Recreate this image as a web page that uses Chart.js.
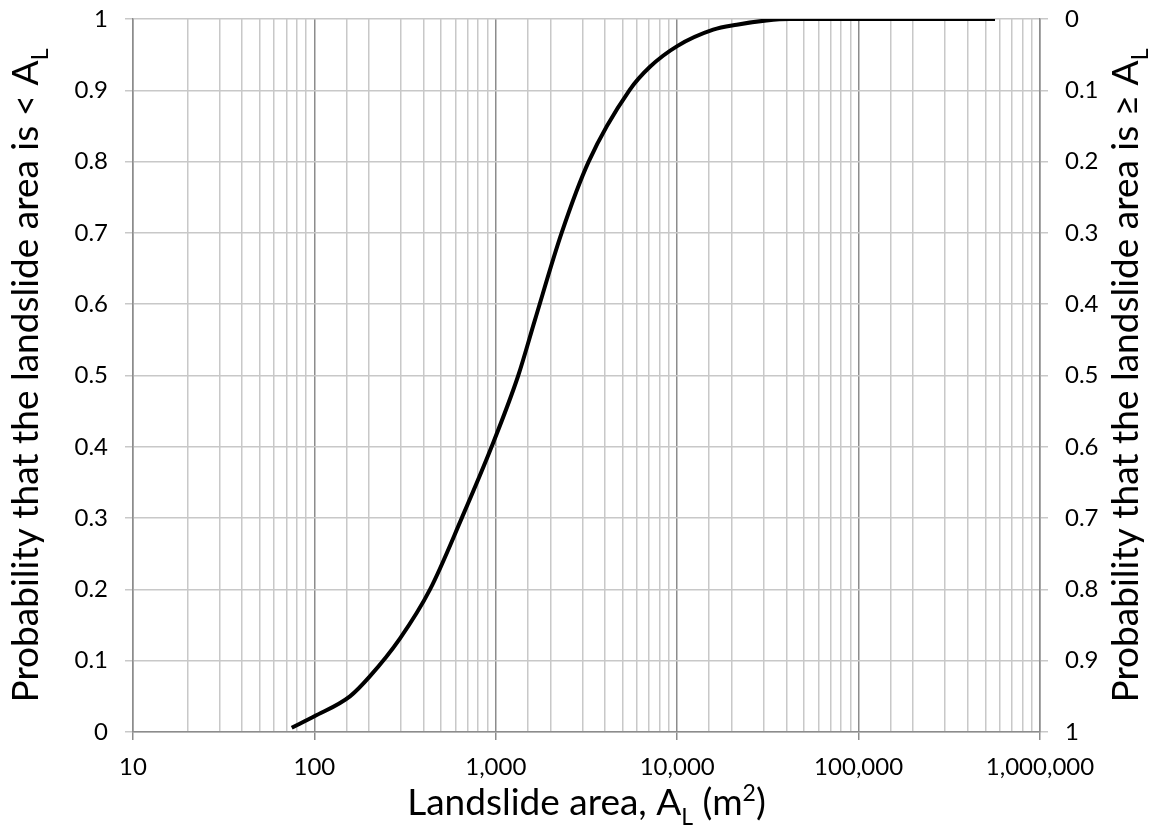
<!DOCTYPE html>
<html>
<head>
<meta charset="utf-8">
<script src="https://cdn.jsdelivr.net/npm/chart.js@4/dist/chart.umd.min.js"></script>
<style>
  html, body { margin: 0; padding: 0; background: #fff; }
  #wrap { width: 1166px; height: 837px; }
</style>
</head>
<body>
<div id="wrap"><canvas id="chart" width="1166" height="837"></canvas></div>
<script>
// Landslide area (m2)
const areas = [75, 100, 157, 202, 296, 434, 649, 948, 1330, 1644, 2306, 3250, 5450, 7080, 10000, 15800, 21300, 31100, 41700, 565000];
// Probability that the landslide area is < A_L
const probLess = [0.006, 0.022, 0.05, 0.078, 0.131, 0.2, 0.3, 0.4, 0.5, 0.578, 0.7, 0.8, 0.9, 0.933, 0.962, 0.985, 0.992, 0.998, 1, 1];

const xTitle = [{ t: 'Landslide area, A' }, { t: 'L', sub: true }, { t: ' (m' }, { t: '2', sup: true }, { t: ')' }];
const yTitle = [{ t: 'Probability that the landslide area is < A' }, { t: 'L', sub: true }];
const y2Title = [{ t: 'Probability that the landslide area is \u2265 A' }, { t: 'L', sub: true }];

const FONT = 'Lato, "Open Sans", sans-serif';
const majorGrid = '#8c8c8c';
const minorGrid = '#c8c8c8';

function isDecade(v) {
    const l = Math.log10(v);
    return Math.abs(l - Math.round(l)) < 1e-9;
}

// draw a title with sub/superscripts, centred on (x, y)
function drawRich(ctx, parts, x, y, rot, size) {
    ctx.save();
    ctx.translate(x, y);
    ctx.rotate(rot);
    ctx.fillStyle = '#000';
    ctx.textBaseline = 'alphabetic';
    const small = Math.round(size * 0.62);
    let total = 0;
    parts.forEach(p => {
        ctx.font = (p.sub || p.sup ? small : size) + 'px ' + FONT;
        p.w = ctx.measureText(p.t).width;
        total += p.w;
    });
    let cx = -total / 2;
    const base = size * 0.35;
    parts.forEach(p => {
        ctx.font = (p.sub || p.sup ? small : size) + 'px ' + FONT;
        let dy = 0;
        if (p.sub) dy = size * 0.27;
        if (p.sup) dy = -size * 0.38;
        ctx.fillText(p.t, cx, base + dy);
        cx += p.w;
    });
    ctx.restore();
}

const titlesPlugin = {
    id: 'richTitles',
    afterDraw(chart) {
        const ctx = chart.ctx;
        const a = chart.chartArea;
        const midY = (a.top + a.bottom) / 2;
        drawRich(ctx, xTitle, (a.left + a.right) / 2, 802, 0, 37);
        drawRich(ctx, yTitle, 25, midY, -Math.PI / 2, 37);
        drawRich(ctx, y2Title, 1125, midY, -Math.PI / 2, 37);
    }
};

// fixed axis sizes so the plot area sits where it does in the original
function fitY(width) {
    return s => { s.width = width; s.paddingTop = 0; s.paddingBottom = 0; };
}

new Chart(document.getElementById('chart'), {
    type: 'line',
    data: {
        datasets: [{
            data: areas.map((a, i) => ({ x: a, y: probLess[i] })),
            borderColor: '#000',
            borderWidth: 4,
            pointRadius: 0,
            fill: false,
            cubicInterpolationMode: 'monotone'
        }]
    },
    options: {
        responsive: false,
        animation: false,
        layout: { padding: { top: 19, left: 0, right: 0, bottom: 0 } },
        plugins: { legend: { display: false }, tooltip: { enabled: false } },
        scales: {
            x: {
                type: 'logarithmic',
                min: 10,
                max: 1000000,
                afterFit: s => { s.height = 105; s.paddingLeft = 0; s.paddingRight = 0; },
                border: { color: majorGrid, width: 1.5 },
                grid: {
                    color: c => isDecade(c.tick.value) ? majorGrid : minorGrid,
                    lineWidth: 1.5,
                    tickColor: c => isDecade(c.tick.value) ? majorGrid : 'rgba(0,0,0,0)',
                    tickLength: 8
                },
                ticks: {
                    autoSkip: false,
                    maxRotation: 0,
                    padding: 13,
                    color: '#000',
                    font: { family: FONT, size: 24 },
                    callback: v => isDecade(v) ? Number(v).toLocaleString('en-US') : ''
                }
            },
            y: {
                position: 'left',
                min: 0,
                max: 1,
                afterFit: fitY(133),
                border: { color: majorGrid, width: 1.5 },
                grid: { color: minorGrid, lineWidth: 1.5, tickLength: 8 },
                ticks: {
                    stepSize: 0.1,
                    padding: 17,
                    color: '#000',
                    font: { family: FONT, size: 24 },
                    callback: v => String(+v.toFixed(1))
                }
            },
            y2: {
                position: 'right',
                min: 0,
                max: 1,
                reverse: true,
                afterFit: fitY(126),
                border: { color: majorGrid, width: 1.5 },
                grid: { drawOnChartArea: false, color: minorGrid, lineWidth: 1.5, tickLength: 8 },
                ticks: {
                    stepSize: 0.1,
                    padding: 17,
                    color: '#000',
                    font: { family: FONT, size: 24 },
                    callback: v => String(+v.toFixed(1))
                }
            }
        }
    },
    plugins: [titlesPlugin]
});
</script>
</body>
</html>
